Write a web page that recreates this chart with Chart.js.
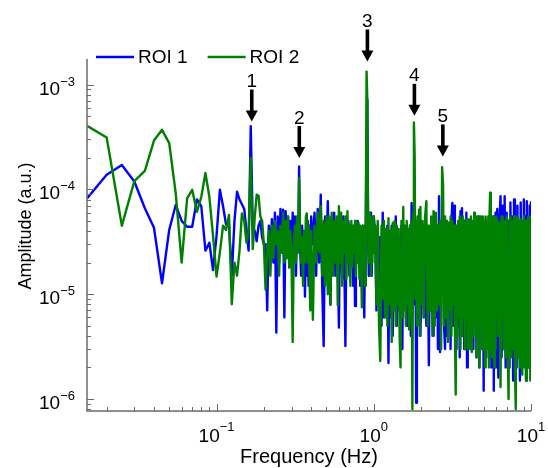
<!DOCTYPE html>
<html><head><meta charset="utf-8">
<script src="https://cdn.jsdelivr.net/npm/chart.js@4.4.0/dist/chart.umd.min.js"></script>
<style>html,body{margin:0;padding:0;background:#fff;}canvas{display:block;}</style>
</head><body>
<canvas id="c" width="548" height="468"></canvas>
<script>
// Frequencies (Hz), one line per band
const freqHz = [
0.015,0.02,0.025,0.03,0.035,0.04,0.045,0.05,0.055,0.06,0.065,0.07,0.075,0.08,0.085,0.09,0.095,0.1,0.105,0.11,0.115,0.12,0.125,0.13,0.135,0.14,0.145,0.15,0.155,0.16,0.165,0.17,0.175,0.18,0.185,0.19,0.195,0.2,
0.205,0.21,0.215,0.22,0.225,0.23,0.235,0.24,0.245,0.25,0.255,0.26,0.265,0.27,0.275,0.28,0.285,0.29,0.295,0.3,0.305,0.31,0.315,0.32,0.325,0.33,0.335,0.34,0.345,0.35,0.355,0.36,0.365,0.37,0.375,0.38,0.385,0.39,0.395,0.4,
0.41,0.42,0.43,0.44,0.45,0.46,0.47,0.48,0.49,0.5,0.51,0.52,0.53,0.54,0.55,0.56,0.57,0.58,0.59,0.6,0.61,0.62,0.63,0.64,0.65,0.66,0.67,0.68,0.69,0.7,0.71,0.72,0.73,0.74,0.75,0.76,0.77,0.78,0.79,0.8,0.81,0.82,0.83,0.84,0.85,0.86,0.87,0.88,0.89,0.9,0.91,0.92,0.93,0.94,0.95,0.96,0.97,0.98,0.99,1.0,
1.02,1.04,1.06,1.08,1.1,1.12,1.14,1.16,1.18,1.2,1.22,1.24,1.26,1.28,1.3,1.32,1.34,1.36,1.38,1.4,1.42,1.44,1.46,1.48,1.5,1.52,1.54,1.56,1.58,1.6,1.62,1.64,1.66,1.68,1.7,1.72,1.74,1.76,1.78,1.8,1.82,1.84,1.86,1.88,1.9,1.92,1.94,1.96,1.98,2.0,
2.04,2.08,2.12,2.16,2.2,2.24,2.28,2.32,2.36,2.4,2.44,2.48,2.52,2.56,2.6,2.64,2.68,2.72,2.76,2.8,2.84,2.88,2.92,2.96,3.0,3.04,3.08,3.12,3.16,3.2,3.24,3.28,3.32,3.36,3.4,3.44,3.48,3.52,3.56,3.6,3.64,3.68,3.72,3.76,3.8,3.84,3.88,3.92,3.96,4.0,
4.05,4.1,4.15,4.2,4.25,4.3,4.35,4.4,4.45,4.5,4.55,4.6,4.65,4.7,4.75,4.8,4.85,4.9,4.95,5.0,5.05,5.1,5.15,5.2,5.25,5.3,5.35,5.4,5.45,5.5,5.55,5.6,5.65,5.7,5.75,5.8,5.85,5.9,5.95,6.0,
6.1,6.2,6.3,6.4,6.5,6.6,6.7,6.8,6.9,7.0,7.1,7.2,7.3,7.4,7.5,7.6,7.7,7.8,7.9,8.0,8.1,8.2,8.3,8.4,8.5,8.6,8.7,8.8,8.9,9.0,9.1,9.2,9.3,9.4,9.5,9.6,9.7,9.8,9.9,10.0
];
// Amplitudes in units of 1e-6 a.u. (same band layout as freqHz)
const AMP_UNIT = 1e-6;
const roi1 = [
82,138,171,119,66,43,12.7,41,71,50, 44,44,80,69,26,31,17,36,99,69, 46,46,15,50,95,80,72,65,40,26, 400,45,40,32,45,50,35,30,
30,7,45,25,52,20,60,4.3,55,20, 65,25,64,6,62,30,55,18,50,25, 60,30,55,15,50,25,165,30,15,45, 20,40,9.5,40,15,50,12,45,20,55,
30,60,15,65,20,89,12,3.2,55,25, 77,20,8,50,30,60,15,45,25,4.8, 50,35,14,55,20,3.2,40,25,50,15, 45,20,40,12,45,7.7,40,20,50,25, 45,12,40,20,45,15,6,40,50,300, 720,40,15,55,20,60,15,50,25,55,
40,7,45,9,35,5,60,6,40,8, 45,2.2,40,6,45,4,35,9,55,5, 40,7,35,6,45,3,40,8,35,6, 45,5,40,9,45,4,74,10,40,70, 8,45,0.92,40,5,45,7,50,4,10,
45,6,40,5,45,2.1,40,7,50,4, 40,6,45,3,86,2.8,50,30,45,5, 3.0,50,4,45,7,40,3,50,74,5, 70,6,40,3,45,5,40,2.5,62,6, 66,4,45,3,50,5,60,2,45,4,
45,5,50,4,45,3,40,6,50,2.5, 45,4,55,2,40,5,50,3,45,1.2, 40,4,50,2.5,45,5,40,3,50,4, 45,2,40,5,55,1.2,45,3,60,2,
65,1.6,50,86,2.5,70,3,86,2,60, 4,50,2,75,3,55,1.5,80,2.5,50, 2,70,2.5,45,1.5,75,2,50,2.6,80, 2.5,55,1.5,77,2.5,50,2,70,2.5,77
];
const roi2 = [
404,312,45,120,150,292,370,276,92,20, 82,99,61,85,143,85,36,14.7,25,45, 41,57,8,20,15,26,59,50,31,40, 200,27,55,89,87,55,50,30,
11,25,40,15,45,22,50,30,40,15, 45,25,60,20,50,22,55,18,40,20, 3.5,30,45,20,55,25,128,40,20,35, 12,40,20,55,59,20,45,15,7,40,
5.7,45,20,60,25,69,15,50,12,55, 10,55,7.9,60,15,50,20,55,7.9,69, 20,60,12,50,25,55,14,62,20,45, 12,50,18,45,25,50,15,45,20,48, 14,45,22,7.5,45,20,45,12,60,1330, 700,50,20,60,45,15,55,20,55,25,
45,8,50,5,2.3,45,9,50,6,42, 5,53,8,40,3.5,48,7,50,5,45, 8,42,4,2.0,50,6,68,7,45,5, 50,8,42,4.6,45,6,50,0.8,60,435, 210,9,50,5,55,7,64,4,68,8,
50,6,55,77,5,45,7,55,4,62, 5,60,7,45,8,50,3,163,110,5, 55,6,50,3.5,48,7,55,4,50,8, 45,5,1.1,45,4,50,6,55,3,50, 4,55,6,48,3,52,7,45,3,52,
50,3,55,2.8,50,4,60,5,45,2.5, 55,4,50,2,55,5,48,3,55,4, 50,2,55,5,45,3,55,2,60,93, 3,55,2.5,50,4,55,2,50,3,55,
50,4,48,1.3,55,55,3,50,2.5,55, 3.5,1.0,50,55,2.5,50,3,55,2,0.8, 50,55,2.5,50,2,52,2.5,1.7,50,55, 2,50,1.5,1.8,48,55,2,50,1.5,55
];
const seriesNames = ['ROI 1', 'ROI 2'];
const xTickExps = [-1, 0, 1];
const yTickExps = [-6, -5, -4, -3];
const arrowLabels = ['1', '2', '3', '4', '5'];
const arrowFreqHz = [0.1675, 0.336, 0.911, 1.813, 2.75];
const arrowTipAmp = [4.44e-4, 1.99e-4, 1.66e-3, 5.03e-4, 2.06e-4];

const FONT = '"Liberation Sans", Arial, Helvetica, sans-serif';
const AXIS_COLOR = '#6b6b6b';
const supStr = e => (e < 0 ? '\u2212' : '') + Math.abs(e);

const deco = {
  id: 'deco',
  afterDatasetsDraw(chart) {
    const {ctx, chartArea: a, scales: {x, y}} = chart;
    ctx.save();
    ctx.strokeStyle = AXIS_COLOR;
    ctx.lineWidth = 1.5;
    ctx.beginPath();
    ctx.moveTo(a.left, a.top); ctx.lineTo(a.left, a.bottom); ctx.lineTo(a.right, a.bottom);
    ctx.stroke();
    ctx.lineWidth = 1;
    ctx.beginPath();
    for (let e = -2; e <= 1; e++) for (let m = 1; m <= 9; m++) {
      const v = m * Math.pow(10, e);
      if (v < x.min * 0.999 || v > x.max * 1.001) continue;
      const px = Math.round(x.getPixelForValue(v)) + 0.5;
      const len = m === 1 ? 7 : 4;
      ctx.moveTo(px, a.bottom); ctx.lineTo(px, a.bottom - len);
    }
    for (let e = -7; e <= -3; e++) for (let m = 1; m <= 9; m++) {
      const v = m * Math.pow(10, e);
      if (v < y.min || v > y.max) continue;
      const py = Math.round(y.getPixelForValue(v)) + 0.5;
      const len = m === 1 ? 7 : 4;
      ctx.moveTo(a.left, py); ctx.lineTo(a.left + len, py);
    }
    ctx.stroke();

    ctx.fillStyle = '#000';
    ctx.textBaseline = 'alphabetic';
    ctx.textAlign = 'left';
    xTickExps.forEach(e => {
      const px = x.getPixelForValue(Math.pow(10, e));
      ctx.font = '19px ' + FONT; const wb = ctx.measureText('10').width;
      ctx.font = '13px ' + FONT; const ws = ctx.measureText(supStr(e)).width;
      const left = px - (wb + ws) / 2;
      ctx.font = '19px ' + FONT; ctx.fillText('10', left, a.bottom + 31);
      ctx.font = '13px ' + FONT; ctx.fillText(supStr(e), left + wb, a.bottom + 20);
    });
    yTickExps.forEach(e => {
      const py = y.getPixelForValue(Math.pow(10, e));
      ctx.font = '19px ' + FONT; const wb = ctx.measureText('10').width;
      ctx.font = '13px ' + FONT; const ws = ctx.measureText(supStr(e)).width;
      const right = a.left - 12;
      ctx.font = '19px ' + FONT; ctx.fillText('10', right - ws - wb, py + 10);
      ctx.font = '13px ' + FONT; ctx.fillText(supStr(e), right - ws, py + 1);
    });

    ctx.font = '20px ' + FONT;
    ctx.textAlign = 'center';
    ctx.fillText('Frequency (Hz)', (a.left + a.right) / 2, 463);
    ctx.save();
    ctx.translate(30.5, 226);
    ctx.rotate(-Math.PI / 2);
    ctx.font = '18px ' + FONT;
    ctx.fillText('Amplitude (a.u.)', 0, 0);
    ctx.restore();

    // legend
    let lx = 96;
    chart.data.datasets.forEach(ds => {
      ctx.strokeStyle = ds.borderColor;
      ctx.lineWidth = 2.4;
      ctx.beginPath(); ctx.moveTo(lx, 57); ctx.lineTo(lx + 38, 57); ctx.stroke();
      ctx.font = '19px ' + FONT;
      ctx.textAlign = 'left';
      ctx.fillStyle = '#000';
      ctx.fillText(ds.label, lx + 42, 63.3);
      lx += 42 + ctx.measureText(ds.label).width + 20;
    });

    // peak arrows
    ctx.fillStyle = '#000';
    arrowLabels.forEach((lab, i) => {
      const ax = x.getPixelForValue(arrowFreqHz[i]);
      const tip = y.getPixelForValue(arrowTipAmp[i]);
      ctx.fillRect(ax - 1.8, tip - 32, 3.6, 22);
      ctx.beginPath();
      ctx.moveTo(ax - 6, tip - 11); ctx.lineTo(ax + 6, tip - 11); ctx.lineTo(ax, tip);
      ctx.closePath(); ctx.fill();
      ctx.font = '19px ' + FONT; ctx.textAlign = 'center';
      ctx.fillText(lab, ax, tip - 34.5);
    });
    ctx.restore();
  }
};

const toPoints = vals => freqHz.map((f, i) => ({x: f, y: vals[i] * AMP_UNIT}));

new Chart(document.getElementById('c'), {
  type: 'line',
  data: {
    datasets: [
      {label: seriesNames[0], data: toPoints(roi1), borderColor: '#0000ff', borderWidth: 2.4,
       pointRadius: 0, tension: 0, fill: false, borderJoinStyle: 'round', order: 2},
      {label: seriesNames[1], data: toPoints(roi2), borderColor: '#008000', borderWidth: 2.4,
       pointRadius: 0, tension: 0, fill: false, borderJoinStyle: 'round', order: 1}
    ]
  },
  options: {
    responsive: false,
    animation: false,
    devicePixelRatio: 1,
    parsing: false,
    layout: {padding: {left: 87, right: 17, top: 59, bottom: 57}},
    scales: {
      x: {type: 'logarithmic', min: 0.015, max: 10, display: false},
      y: {type: 'logarithmic', min: 7.67e-7, max: 1.754e-3, display: false}
    },
    plugins: {legend: {display: false}, tooltip: {enabled: false}}
  },
  plugins: [deco]
});
</script>
</body></html>
